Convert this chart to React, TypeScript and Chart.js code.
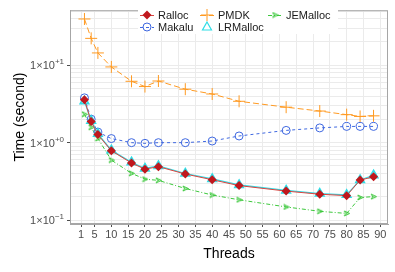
import React, { useEffect, useRef } from 'react';
import { Chart, registerables } from 'chart.js';
Chart.register(...registerables);

const threads = [2, 4, 6, 10, 16, 20, 24, 32, 40, 48, 62, 72, 80, 84, 88];
const ralloc = [3.58, 1.87, 1.27, 0.787, 0.546, 0.455, 0.49, 0.394, 0.332, 0.279, 0.237, 0.216, 0.207, 0.329, 0.362];
const makalu = [3.79, 2.01, 1.37, 1.13, 1.0, 0.98, 1.0, 1.0, 1.05, 1.22, 1.44, 1.55, 1.62, 1.62, 1.62];
const pmdk = [39.5, 22.2, 14.4, 9.5, 6.2, 5.3, 6.25, 4.9, 4.25, 3.42, 2.87, 2.56, 2.3, 2.18, 2.22];
const lrmalloc = [3.42, 1.92, 1.3, 0.8, 0.56, 0.465, 0.5, 0.4, 0.34, 0.285, 0.242, 0.22, 0.212, 0.33, 0.38];
const jemalloc = [2.33, 1.58, 1.13, 0.596, 0.402, 0.338, 0.326, 0.256, 0.211, 0.183, 0.148, 0.13, 0.122, 0.196, 0.201];

const xTicks = [1, 5, 10, 15, 20, 25, 30, 35, 40, 45, 50, 55, 60, 65, 70, 75, 80, 85, 90];
const yDecades = [0.1, 1, 10];
const yExponents = ['\u22121', '+0', '+1'];
const xTitle = 'Threads';
const yTitle = 'Time (second)';

const FONT = '"Liberation Sans", Arial, sans-serif';
const C_RALLOC = '#c0181e';
const C_RALLOC_LINE = '#d9443f';
const C_MAKALU = '#3f68e0';
const C_PMDK = '#ff9a22';
const C_LR = '#2fdde6';
const C_JE = '#3cc83c';

function makeArrow(color: string) {
  const c = document.createElement('canvas');
  c.width = 7;
  c.height = 7;
  const g = c.getContext('2d')!;
  g.strokeStyle = color;
  g.fillStyle = 'rgba(60,200,60,0.25)';
  g.lineWidth = 1;
  g.beginPath();
  g.moveTo(1, 1);
  g.lineTo(6.5, 3.5);
  g.lineTo(1, 6);
  g.lineTo(2.8, 3.5);
  g.closePath();
  g.fill();
  g.stroke();
  return c;
}

function drawMarker(ctx: CanvasRenderingContext2D, kind: string, x: number, y: number, arrow: HTMLCanvasElement) {
  ctx.save();
  ctx.setLineDash([]);
  if (kind === 'diamond') {
    ctx.fillStyle = C_RALLOC;
    ctx.beginPath();
    ctx.moveTo(x, y - 4.5);
    ctx.lineTo(x + 4.5, y);
    ctx.lineTo(x, y + 4.5);
    ctx.lineTo(x - 4.5, y);
    ctx.closePath();
    ctx.fill();
  } else if (kind === 'circle') {
    ctx.strokeStyle = C_MAKALU;
    ctx.lineWidth = 1;
    ctx.beginPath();
    ctx.arc(x, y, 4, 0, Math.PI * 2);
    ctx.stroke();
  } else if (kind === 'cross') {
    ctx.strokeStyle = C_PMDK;
    ctx.lineWidth = 1;
    ctx.beginPath();
    ctx.moveTo(x - 6, y);
    ctx.lineTo(x + 6, y);
    ctx.moveTo(x, y - 6);
    ctx.lineTo(x, y + 6);
    ctx.stroke();
  } else if (kind === 'triangle') {
    ctx.strokeStyle = C_LR;
    ctx.lineWidth = 1.2;
    ctx.beginPath();
    ctx.moveTo(x, y - 5);
    ctx.lineTo(x + 4.5, y + 3);
    ctx.lineTo(x - 4.5, y + 3);
    ctx.closePath();
    ctx.stroke();
  } else if (kind === 'arrow') {
    ctx.drawImage(arrow, x - 3.5, y - 3.5);
  }
  ctx.restore();
}

export default function App() {
  const ref = useRef<HTMLCanvasElement | null>(null);

  useEffect(() => {
    document.body.style.margin = '0';
    const canvas = ref.current!;
    const arrow = makeArrow(C_JE);
    const pts = (arr: number[]) => threads.map((t, i) => ({ x: t, y: arr[i] }));

    const legendItems = [
      { label: 'Ralloc', kind: 'diamond', color: C_RALLOC_LINE, dash: [] as number[], col: 0, row: 0 },
      { label: 'Makalu', kind: 'circle', color: C_MAKALU, dash: [3, 3], col: 0, row: 1 },
      { label: 'PMDK', kind: 'cross', color: C_PMDK, dash: [6, 3], col: 1, row: 0 },
      { label: 'LRMalloc', kind: 'triangle', color: '', dash: [], col: 1, row: 1 },
      { label: 'JEMalloc', kind: 'arrow', color: C_JE, dash: [4, 2, 1, 2], col: 2, row: 0 },
    ];

    const overlay = {
      id: 'overlay',
      afterDraw(chart: any) {
        const ctx: CanvasRenderingContext2D = chart.ctx;
        const ca = chart.chartArea;
        const ys = chart.scales.y;
        ctx.save();
        ctx.strokeStyle = '#a6a6a6';
        ctx.lineWidth = 1;
        ctx.strokeRect(ca.left + 0.5, ca.top + 0.5, ca.right - ca.left - 1, ca.bottom - ca.top - 1);
        ctx.fillStyle = '#4d4d4d';
        ctx.textBaseline = 'alphabetic';
        yDecades.forEach((v, i) => {
          const py = ys.getPixelForValue(v);
          ctx.font = `11px ${FONT}`;
          const base = '1\u00d710';
          const w1 = ctx.measureText(base).width;
          ctx.font = `8px ${FONT}`;
          const w2 = ctx.measureText(yExponents[i]).width;
          const right = ca.left - 6;
          const left = right - w1 - w2;
          ctx.font = `11px ${FONT}`;
          ctx.textAlign = 'left';
          ctx.fillText(base, left, py + 4);
          ctx.font = `8px ${FONT}`;
          ctx.fillText(yExponents[i], left + w1, py - 1);
        });
        ctx.fillStyle = '#000';
        ctx.font = `14px ${FONT}`;
        ctx.textAlign = 'center';
        ctx.textBaseline = 'middle';
        ctx.fillText(xTitle, (ca.left + ca.right) / 2, 254);
        ctx.save();
        ctx.translate(20, (ca.top + ca.bottom) / 2);
        ctx.rotate(-Math.PI / 2);
        ctx.fillText(yTitle, 0, 0);
        ctx.restore();
        ctx.fillStyle = '#ffffff';
        ctx.fillRect(138, 6, 200, 28);
        const colKey = [147, 207, 275];
        const rowY = [15, 27];
        ctx.font = `11px ${FONT}`;
        ctx.textAlign = 'left';
        ctx.textBaseline = 'middle';
        legendItems.forEach((it) => {
          const kx = colKey[it.col];
          const ky = rowY[it.row];
          if (it.color) {
            ctx.save();
            ctx.strokeStyle = it.color;
            ctx.lineWidth = 1;
            ctx.setLineDash(it.dash);
            ctx.beginPath();
            ctx.moveTo(kx - 7, ky + 0.5);
            ctx.lineTo(kx + 7, ky + 0.5);
            ctx.stroke();
            ctx.restore();
          }
          drawMarker(ctx, it.kind, kx, ky, arrow);
          ctx.fillStyle = '#1a1a1a';
          ctx.fillText(it.label, kx + 11, ky + 1);
        });
        ctx.restore();
      },
    };

    const minorTicks: number[] = [];
    [0.1, 1, 10].forEach((d) => {
      for (let k = 1; k <= 9; k++) minorTicks.push(+(d * k).toPrecision(3));
    });
    const yTickVals = minorTicks.filter((v) => v <= 51);

    const chart = new Chart(canvas, {
      type: 'line',
      data: {
        datasets: [
          {
            label: 'Ralloc',
            data: pts(ralloc),
            borderColor: C_RALLOC_LINE,
            borderWidth: 1,
            pointStyle: 'rectRot',
            pointRadius: 4.5,
            pointBackgroundColor: C_RALLOC,
            pointBorderColor: C_RALLOC,
            pointBorderWidth: 0,
            order: 0,
          },
          {
            label: 'LRMalloc',
            data: pts(lrmalloc),
            borderColor: C_LR,
            borderWidth: 1.2,
            pointStyle: 'triangle',
            pointRadius: 5,
            pointBackgroundColor: 'rgba(47,221,230,0.45)',
            pointBorderColor: C_LR,
            pointBorderWidth: 1.5,
            order: 1,
          },
          {
            label: 'Makalu',
            data: pts(makalu),
            borderColor: C_MAKALU,
            borderWidth: 1,
            borderDash: [3, 3],
            pointStyle: 'circle',
            pointRadius: 4,
            pointBackgroundColor: 'rgba(0,0,0,0)',
            pointBorderColor: C_MAKALU,
            pointBorderWidth: 1,
            order: 2,
          },
          {
            label: 'PMDK',
            data: pts(pmdk),
            borderColor: C_PMDK,
            borderWidth: 1,
            borderDash: [6, 3],
            pointStyle: 'cross',
            pointRadius: 6,
            pointBorderColor: C_PMDK,
            pointBorderWidth: 1,
            order: 3,
          },
          {
            label: 'JEMalloc',
            data: pts(jemalloc),
            borderColor: C_JE,
            borderWidth: 1,
            borderDash: [4, 2, 1, 2],
            pointStyle: arrow as any,
            pointRadius: 3,
            order: 4,
          },
        ],
      },
      options: {
        animation: false,
        responsive: false,
        maintainAspectRatio: false,
        events: [],
        layout: { padding: { left: 0, right: 1, top: 3, bottom: 0 } },
        plugins: { legend: { display: false }, tooltip: { enabled: false } },
        scales: {
          x: {
            type: 'linear',
            min: -2.3,
            max: 92.3,
            afterBuildTicks: (s: any) => {
              s.ticks = xTicks.map((v) => ({ value: v }));
            },
            afterFit: (s: any) => {
              s.height = 48;
            },
            grid: {
              color: '#ebebeb',
              lineWidth: 1,
              tickLength: 3,
              tickColor: '#4d4d4d',
            },
            border: { display: true, color: '#a6a6a6' },
            ticks: {
              autoSkip: false,
              maxRotation: 0,
              padding: 1,
              color: '#4d4d4d',
              font: { size: 11, family: FONT },
              callback: (v: any) => String(v),
            },
          },
          y: {
            type: 'logarithmic',
            min: Math.pow(10, -1.05),
            max: Math.pow(10, 1.71),
            afterBuildTicks: (s: any) => {
              s.ticks = yTickVals.map((v) => ({ value: v }));
            },
            afterFit: (s: any) => {
              s.width = 70;
            },
            grid: {
              color: '#ebebeb',
              lineWidth: 1,
              tickLength: 3,
              tickColor: (c: any) => {
                const v = c.tick && c.tick.value;
                return yDecades.some((d) => Math.abs(d - v) < 1e-9) ? '#4d4d4d' : 'rgba(0,0,0,0)';
              },
            },
            border: { display: true, color: '#a6a6a6' },
            ticks: {
              autoSkip: false,
              callback: () => '',
            },
          },
        },
      },
      plugins: [overlay],
    });
    return () => chart.destroy();
  }, []);

  return (
    <div style={{ position: 'absolute', left: 0, top: 0, width: 395, height: 272 }}>
      <canvas ref={ref} width={395} height={272} style={{ width: 395, height: 272, display: 'block' }} />
    </div>
  );
}
